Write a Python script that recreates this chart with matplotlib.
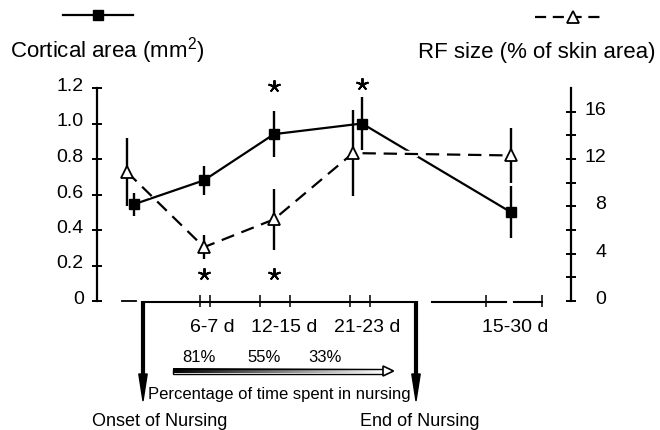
import numpy as np
import matplotlib
matplotlib.use("Agg")
import matplotlib.pyplot as plt
import matplotlib.transforms as mtransforms
import matplotlib.patheffects as pe
from matplotlib.lines import Line2D
from matplotlib.patches import Polygon, Rectangle

plt.rcParams["font.family"] = ["Liberation Sans", "DejaVu Sans"]
plt.rcParams["mathtext.fontset"] = "custom"
plt.rcParams["mathtext.rm"] = "Liberation Sans"
plt.rcParams["mathtext.it"] = "Liberation Sans"
plt.rcParams["mathtext.default"] = "regular"

W, H = 660, 431

# schematic age axis: 0 = onset of nursing, roughly in days
area_x = [-0.6, 6.4, 13.4, 22.2, 37.1]
area_mean = [0.545, 0.68, 0.94, 1.0, 0.50]
area_err = [0.065, 0.08, 0.13, 0.152, 0.147]

rf_x = [-1.3, 6.4, 13.4, 21.3, 37.1]
rf_mean = [10.9, 4.55, 6.9, 12.5, 12.3]
rf_err = [2.9, 1.0, 2.6, 3.6, 2.35]

# significance stars
area_sig_x = [13.4, 22.2]
area_sig_y = [1.21, 1.22]
rf_sig_x = [6.4, 13.4]
rf_sig_y = [2.3, 2.3]

area_ticks = [0, 0.2, 0.4, 0.6, 0.8, 1.0, 1.2]
area_ticklabels = ["0", "0.2", "0.4", "0.6", "0.8", "1.0", "1.2"]
rf_ticks = [0, 4, 8, 12, 16]
rf_minor = [2, 6, 10, 14]

age_ticks = [6, 7, 12, 15, 21, 23, 34.6, 40.2]
age_labels = ["6-7 d", "12-15 d", "21-23 d", "15-30 d"]
age_label_x = [7.2, 14.4, 22.7, 37.5]

nursing_pct = ["81%", "55%", "33%"]
nursing_pct_x = [5.85, 12.45, 18.5]
onset_x, end_x = 0.3, 27.6


def fig_xy(x, y):
    # pixel position (from top-left) -> figure fraction
    return x / W, 1 - y / H


fig = plt.figure(figsize=(W / 100, H / 100), dpi=100)
ax = fig.add_axes([97 / W, 1 - 302 / H, 474 / W, 213 / H])
ax.set_xlim(-4.3, 43.1)
ax.set_ylim(0, 1.2)
ax2 = ax.twinx()
ax2.set_ylim(0, 18)

# x in data units, y in pixels from the top of the figure
px_y = mtransforms.Affine2D().scale(1 / W, -1 / H).translate(0, 1) + fig.transFigure
trans = mtransforms.blended_transform_factory(ax.transData, px_y)

for a in (ax, ax2):
    for side in ("top", "bottom", "left", "right"):
        a.spines[side].set_visible(False)
ax.spines["left"].set_visible(True)
ax.spines["left"].set_linewidth(1.6)
ax.spines["left"].set_bounds(0, 1.2)
ax2.spines["right"].set_visible(True)
ax2.spines["right"].set_linewidth(1.6)

ax.set_yticks(area_ticks)
ax.set_yticklabels(area_ticklabels)
ax.tick_params(axis="y", direction="inout", length=7, width=1.4, pad=6, labelsize=14)
ax.set_xticks(age_ticks)
ax.tick_params(axis="x", direction="inout", length=8, width=1.1, labelbottom=False)

ax2.set_yticks(rf_ticks)
ax2.set_yticks(rf_minor, minor=True)
ax2.tick_params(axis="y", which="both", direction="inout", length=7, width=1.4)
ax2.tick_params(axis="y", which="major", pad=22, labelsize=14)

lift = mtransforms.ScaledTranslation(0, 4.5 / 100, fig.dpi_scale_trans)
for lab in ax.get_yticklabels():
    lab.set_transform(lab.get_transform() + lift)
for lab in ax2.get_yticklabels():
    lab.set_ha("right")
    lab.set_transform(lab.get_transform() + lift)

# cortical area (left axis)
ax.errorbar(area_x, area_mean, yerr=area_err, fmt="none", ecolor="black",
            elinewidth=1.7, capsize=0, zorder=2)
ax.plot(area_x, area_mean, "-", color="black", lw=1.6, zorder=3)
ax.plot(area_x, area_mean, "s", color="black", ms=7, zorder=4)
ax.plot(area_sig_x, area_sig_y, ls="none", marker=(5, 2, 0), color="black",
        ms=9, mew=1.4, clip_on=False)

# RF size (right axis)
ax2.errorbar(rf_x, rf_mean, yerr=rf_err, fmt="none", ecolor="black",
             elinewidth=1.7, capsize=0, zorder=2)
ax2.plot(rf_x, rf_mean, color="black", lw=1.6, dashes=(6, 3.5), zorder=3,
         path_effects=[pe.Stroke(linewidth=4.5, foreground="white"), pe.Normal()])
ax2.plot(rf_x, rf_mean, "^", mfc="white", mec="black", mew=1.3, ms=9, zorder=4)
ax2.plot(rf_sig_x, rf_sig_y, ls="none", marker=(5, 2, 0), color="black",
         ms=9, mew=1.4, clip_on=False)

# broken age axis with nursing bracket
ax.plot([-1.8, -0.4], [302, 302], transform=trans, color="black", lw=1.3, clip_on=False)
ax.plot([onset_x, end_x], [303, 303], transform=trans, color="black", lw=1.5, clip_on=False)
ax.plot([29.2, 36.6], [303, 303], transform=trans, color="black", lw=1.5, clip_on=False)
ax.plot([37.4, 40.2], [303, 303], transform=trans, color="black", lw=1.5, clip_on=False)
for xv in (onset_x, end_x):
    ax.plot([xv, xv], [302, 378], transform=trans, color="black", lw=3,
            solid_capstyle="butt", clip_on=False)
    ax.add_patch(Polygon([(xv - 0.42, 375), (xv + 0.42, 375), (xv, 402)],
                         closed=True, transform=trans, color="black", clip_on=False))

for lab, xv in zip(age_labels, age_label_x):
    ax.text(xv, 332, lab, transform=trans, ha="center", va="baseline", fontsize=14)

for lab, xv in zip(nursing_pct, nursing_pct_x):
    ax.text(xv, 362, lab, transform=trans, ha="center", va="baseline", fontsize=12)

ax.text(13.9, 399, "Percentage of time spent in nursing", transform=trans,
        ha="center", va="baseline", fontsize=12)
ax.text(-4.8, 426, "Onset of Nursing", transform=trans, ha="left",
        va="baseline", fontsize=13)
ax.text(22.0, 426, "End of Nursing", transform=trans, ha="left",
        va="baseline", fontsize=13)

# gradient arrow
axg = fig.add_axes([165 / W, 1 - 380 / H, 235 / W, 20 / H])
axg.axis("off")
gradient = np.linspace(0, 1, 256)[None, :]
axg.imshow(gradient, cmap="gray", vmin=0, vmax=1, extent=(173, 384, 374.5, 369.5),
           aspect="auto", interpolation="bilinear")
axg.add_patch(Rectangle((173, 369.5), 211, 5, fill=False, ec="black", lw=1))
axg.add_patch(Polygon([(383, 367), (393.5, 372), (383, 377)], closed=True,
                      fc="white", ec="black", lw=1.2, zorder=5))
axg.set_xlim(165, 400)
axg.set_ylim(380, 360)

# legend keys and axis titles
x0, y0 = fig_xy(63, 16)
x1, _ = fig_xy(133, 16)
fig.add_artist(Line2D([x0, x1], [y0, y0], transform=fig.transFigure, color="black", lw=1.6))
xm, _ = fig_xy(98, 16)
fig.add_artist(Line2D([xm], [y0], transform=fig.transFigure, color="black",
                      marker="s", ms=7))

x0, y0 = fig_xy(535, 18)
x1, _ = fig_xy(604, 18)
fig.add_artist(Line2D([x0, x1], [y0, y0], transform=fig.transFigure, color="black",
                      lw=1.6, dashes=(5, 3)))
xm, _ = fig_xy(573, 18)
fig.add_artist(Line2D([xm], [y0], transform=fig.transFigure, color="black",
                      marker="^", mfc="white", mew=1.3, ms=9))

tx, ty = fig_xy(10, 58)
fig.text(tx, ty, "Cortical area (mm$^2$)", fontsize=16, ha="left", va="baseline")
tx, ty = fig_xy(655, 58)
fig.text(tx, ty, "RF size (% of skin area)", fontsize=16, ha="right", va="baseline")

fig.savefig("out.png", dpi=100)
